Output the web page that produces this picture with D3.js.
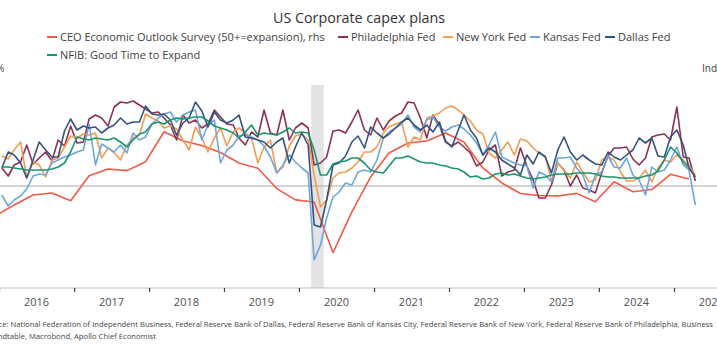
<!DOCTYPE html>
<html><head><meta charset="utf-8">
<script src="https://cdn.jsdelivr.net/npm/d3@7"></script>
<style>
body{margin:0;background:#fff;overflow:hidden}
svg{display:block}
text{font-family:"Open Sans","Noto Sans",sans-serif}
</style>
</head><body>
<svg id="c" width="717" height="355"></svg>
<script>
// ---------------- DATA ----------------
// Monthly series, starting Jan 2016 (left axis)
const philly = [9,5,10.5,12,20.5,11,14,17,12.5,23,20,30,
21.5,22,33.5,35.5,34,30,39.5,42,41.5,42.5,40.5,38.5,
36.5,37,34,30.5,23,35.5,31.5,33,29,31,38,34.5,
31,30.5,24,20.5,27,24.5,38,26.5,25.5,38,23,29,
31.5,29,10.5,11.5,14.5,27.5,28,26.5,32,38,28,25.5,
34,28,32.5,35,36.5,42,41.5,34,24,35.5,30.5,22,
20,22,19.5,16.5,10,12,18,20.5,5,7,8,19,
10,3,-6,-6,0.5,11.5,8,0,5.5,-1,-2,-3.5,
6.5,15,19,19,19.5,13.5,10.5,14,24.5,25.5,26,23,
39.5,14.5,14,2.5];
const newYork = [15,13.5,18,22,4,12,10.5,4.5,13,14,19.5,25,
24,26,25.5,26.5,14,19,16.5,13,20.5,24,25.5,36,
34,32.5,29,30,28.5,23,18,29.5,24,17,24,29,
20,27,29,26.5,24,11.5,19.5,23,6.5,9.5,20,25,
26,23,5.5,-10.5,-7,4,6.5,7,9,12,17,17,
19.5,26.5,29.5,31,32,19.5,24.5,23,34,35,36.5,39,
40,38,35.5,32.5,28,26,16.5,14,18,22,15.5,23.5,
22.5,19,16.5,15,2.5,11.5,8,4,12,7,2,3,
13,14.5,13,7,2.5,2.5,4,8,2,9,13,12,
15.5,13,10,5.5];
const kansas = [-4.5,-10,-7,-5,-1.5,5,6,5.5,11.5,13,14.5,15.5,
17,18,31,10.5,21,19,17,20.5,16.5,26.5,23,24.5,
31,34,36,37,32,35.5,37,38,23,30.5,33,11.5,
18,20.5,25,25.5,24.5,23,20,14.5,6.5,10.5,15.5,12,
9,6.5,-37,-29.5,-16,-5.5,-3,1.5,0.5,7,8,7,
13,24,27,29,31,35.5,29.5,27,33,34.5,29.5,27.5,
29.5,30.5,28.5,25.5,21.5,15.5,20.5,27,14.5,13,11.5,10.5,
10,-1,7,5.5,2,14,14,14.5,9,5.5,-3.5,5.5,
7,15,9.5,9,14,5.5,3,-4.5,9.5,7,8,13,
19.5,10.5,8,-9.5];
const dallas = [9,17,15.5,11.5,4,13,22,18,14.5,14.5,27.5,33.5,
28,30,29,29.5,26.5,29,30.5,34,31,32,32,40,
36,35.5,36,33,25.5,31.5,34,42,37.5,29.5,37,33,
31.5,33,35.5,24.5,24,23,22,19,22,24,11.5,19.5,
26.5,20.5,-19.5,-20.5,-7,10.5,11.5,15,22,25,19,29.5,
26.5,24,26,29,32,34,30.5,28,30.5,27,32,22.5,
19.5,28,35.5,28,24,15.5,19,17,13,11,9,5.5,
15.5,11,17,14.5,6.5,18,24.5,17,13,15.5,13,11,
10.5,17,14.5,13,15.5,18,24,21.5,24,15,14.5,24.5,
28,20.5,9,4.5];
const nfib = [9.5,9.5,9,8.5,8,8,8,8,8.5,9.5,11.5,17,
24.5,23.5,23,24,23.5,23,24,22,19.5,23,26,27,
31,32,31,33,34,33.5,34,34.5,34.5,32.5,30,29,
28,26.5,24,27,30.5,25.5,26.5,26,25.5,27,29,26.5,
27,26.5,18,5.5,5.5,11,12,12.5,14,14,11.5,8,
7,6.5,10,14,14,15,13.5,12,11.5,11.5,10.5,10,
9,8.5,7,4.5,5,3.5,4,6,6.5,5.5,6,5,
4,3.5,4,4.5,5.5,6,6,6,6.5,6.5,6.5,6,
5,4.5,4.5,4,4,4,4,5,5.5,7.5,13,19.5,
16.5,12,9];
// Quarterly CEO Economic Outlook index (right axis), starting Dec 2015
const ceoStart = "2015-12";
const ceo = [59.0,65.6,71.9,73.1,68.3,83.9,88.1,87.1,92.7,111.4,105.6,102.8,
98.4,91.9,88.6,75.9,68.8,67.5,35.8,61.3,83.1,98.1,104.4,105.6,
110.6,105.0,88.8,79.4,72.8,71.6,71.3,72.9,67.7,80.2,73.9,75.3,84.8,81.9];
const years = [2016,2017,2018,2019,2020,2021,2022,2023,2024,2025];
const recession = ["2020-03-01","2020-05-01"];
const seriesNames = ["CEO Economic Outlook Survey (50+=expansion), rhs","Philadelphia Fed","New York Fed","Kansas Fed","Dallas Fed","NFIB: Good Time to Expand"];
const colors = ["#f05a46","#8e3152","#f59c52","#6fa6dc","#34527e","#1b9470"];
const sourceLines = ["Source: National Federation of Independent Business, Federal Reserve Bank of Dallas, Federal Reserve Bank of Kansas City, Federal Reserve Bank of New York, Federal Reserve Bank of Philadelphia, Business",
"Roundtable, Macrobond, Apollo Chief Economist"];

// ---------------- CHART ----------------
const svg = d3.select("#c");
const x = d3.scaleTime().domain([new Date(2016,0,1), new Date(2025,0,1)]).range([-1, 674]);
const yL = d3.scaleLinear().domain([-50,50]).range([286,86]);
const yR = d3.scaleLinear().domain([15,140]).range([286,86]);
const monthDate = i => new Date(2016, i, 15);
const [cy, cm] = ceoStart.split("-").map(Number);
const qDate = i => new Date(cy, cm - 1 + 3*i, 15);

// recession shading
svg.append("rect")
  .attr("x", x(new Date(recession[0]))).attr("y", 85)
  .attr("width", x(new Date(recession[1])) - x(new Date(recession[0])))
  .attr("height", 288-85).attr("fill", "#e3e3e3");

// zero line
svg.append("line").attr("x1",0).attr("x2",717).attr("y1",yL(0)).attr("y2",yL(0))
  .attr("stroke","#a6a6a6").attr("stroke-width",1);

// x axis
const axisG = svg.append("g").attr("transform","translate(0,288)");
axisG.append("line").attr("x1",0).attr("x2",717).attr("y1",0).attr("y2",0)
  .attr("stroke","#bdbdbd").attr("stroke-width",1.2);
axisG.call(d3.axisBottom(x).tickValues(years.map(y=>new Date(y,0,1))).tickSize(4).tickFormat(""))
  .call(g=>g.select(".domain").remove())
  .call(g=>g.selectAll(".tick line").attr("stroke","#404040").attr("stroke-width",1.2));
svg.append("g").selectAll("text").data(years).join("text")
  .attr("x", d=>x(new Date(d,6,2))).attr("y",305.5)
  .attr("text-anchor","middle").attr("font-size",11).attr("fill","#505050")
  .text(d=>d);

// lines
const lineL = d3.line().x((d,i)=>x(monthDate(i))).y(d=>yL(d));
const lineR = d3.line().x((d,i)=>x(qDate(i))).y(d=>yR(d));
const plotG = svg.append("g").attr("fill","none").attr("stroke-width",1.6).attr("stroke-linejoin","round");
plotG.append("path").attr("d", lineR(ceo)).attr("stroke", colors[0]);
[philly, newYork, kansas, dallas, nfib].forEach((s,k)=>{
  plotG.append("path").attr("d", lineL(s)).attr("stroke", colors[k+1]);
});

// title
svg.append("text").attr("x",359).attr("y",22.5).attr("text-anchor","middle")
  .attr("font-size",14.3).attr("fill","#333").text("US Corporate capex plans");

// legend
const legPos = [[47,37],[338,37],[443,37],[530,37],[605,37],[47,55]];
const legG = svg.append("g");
seriesNames.forEach((n,k)=>{
  const [lx,ly] = legPos[k];
  legG.append("line").attr("x1",lx).attr("x2",lx+10).attr("y1",ly).attr("y2",ly)
    .attr("stroke",colors[k]).attr("stroke-width",2);
  legG.append("text").attr("x",lx+13).attr("y",ly+3.8).attr("font-size",11)
    .attr("fill","#404040").text(n);
});

// axis unit labels
svg.append("text").attr("x",4.5).attr("y",71.5).attr("text-anchor","end").attr("font-size",10).attr("fill","#404040").text("%");
svg.append("text").attr("x",702).attr("y",71.5).attr("font-size",10).attr("fill","#404040").text("Index");

// source
svg.append("text").attr("x",713).attr("y",327).attr("text-anchor","end").attr("font-size",7.65).attr("fill","#454545").text(sourceLines[0]);
svg.append("text").attr("x",156).attr("y",338.5).attr("text-anchor","end").attr("font-size",7.65).attr("fill","#454545").text(sourceLines[1]);
</script>
</body></html>
